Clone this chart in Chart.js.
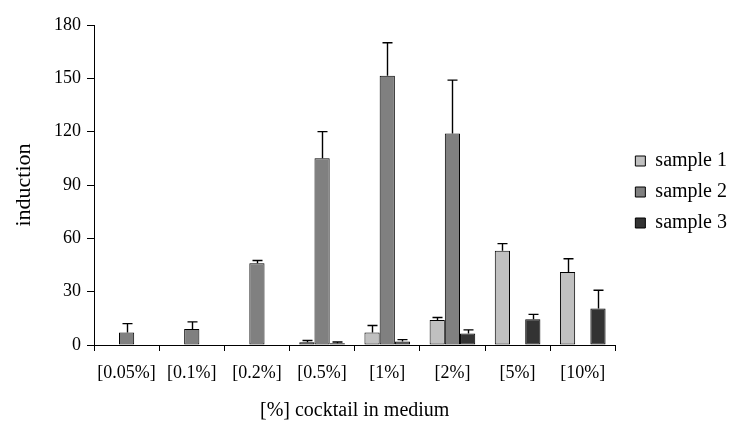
<!DOCTYPE html>
<html>
<head>
<meta charset="utf-8">
<script src="https://cdn.jsdelivr.net/npm/chart.js@4/dist/chart.umd.min.js"></script>
<style>
  html, body { margin: 0; padding: 0; background: #ffffff; }
  #wrap { width: 733px; height: 423px; position: relative; }
</style>
</head>
<body>
<div id="wrap"><canvas id="chart" width="733" height="423"></canvas></div>
<script>
// Cocktail concentrations in the medium
const categories = ['[0.05%]', '[0.1%]', '[0.2%]', '[0.5%]', '[1%]', '[2%]', '[5%]', '[10%]'];

// Mean induction per sample (null = not measured)
const sample1 = [null, null, null, 1.5, 7, 14, 53, 41];
const sample2 = [7, 9, 46, 105, 151.5, 119, null, null];
const sample3 = [null, null, null, 1, 2, 6.5, 14.5, 20.5];

// Upper error (standard deviation) per sample
const sample1Err = [null, null, null, 1, 4, 1.5, 4, 7.5];
const sample2Err = [5, 4, 1.5, 15, 18.5, 30, null, null];
const sample3Err = [null, null, null, 0.7, 1, 2, 2.7, 10.3];

// Y axis tick values
const yTicks = [0, 30, 60, 90, 120, 150, 180];

const serif = "'Liberation Serif', 'Times New Roman', serif";

// Draws upper error whiskers with a cap on top of each bar
const errorBars = {
  id: 'errorBars',
  afterDatasetsDraw(chart) {
    const ctx = chart.ctx;
    const yScale = chart.scales.y;
    ctx.save();
    ctx.strokeStyle = '#000000';
    ctx.lineWidth = 1.4;
    chart.data.datasets.forEach((ds, di) => {
      const meta = chart.getDatasetMeta(di);
      meta.data.forEach((bar, i) => {
        const v = ds.data[i];
        const e = ds.errors[i];
        if (v == null || e == null) return;
        const x = Math.round(bar.x) + 0.5;
        const yTop = yScale.getPixelForValue(v);
        const yErr = yScale.getPixelForValue(v + e);
        ctx.beginPath();
        ctx.moveTo(x, yTop);
        ctx.lineTo(x, yErr);
        ctx.moveTo(x - 5, yErr);
        ctx.lineTo(x + 5, yErr);
        ctx.stroke();
      });
    });
    ctx.restore();
  }
};

// Nudges the legend block: a gap from the plot and centred on the upper half
const legendPlacement = {
  id: 'legendPlacement',
  afterLayout(chart) {
    const lg = chart.legend;
    if (!lg) return;
    const dx = chart.chartArea.right + 9 - lg.left;
    const dy = -32;
    lg.left += dx; lg.right += dx;
    lg.top += dy; lg.bottom += dy;
  }
};

new Chart(document.getElementById('chart'), {
  type: 'bar',
  data: {
    labels: categories,
    datasets: [
      { label: 'sample 1', data: sample1, errors: sample1Err, backgroundColor: '#c0c0c0' },
      { label: 'sample 2', data: sample2, errors: sample2Err, backgroundColor: '#808080' },
      { label: 'sample 3', data: sample3, errors: sample3Err, backgroundColor: '#333333' }
    ].map(d => Object.assign(d, { borderColor: '#000000', borderWidth: 1, borderSkipped: false }))
  },
  options: {
    responsive: false,
    animation: false,
    devicePixelRatio: 1,
    layout: { padding: { top: 25, right: 5, bottom: 0, left: 0 } },
    datasets: { bar: { barPercentage: 1, categoryPercentage: 0.7 } },
    plugins: {
      tooltip: { enabled: false },
      legend: {
        position: 'right',
        align: 'center',
        labels: {
          color: '#000000',
          font: { family: serif, size: 20 },
          boxWidth: 10,
          boxHeight: 10,
          padding: 11
        }
      }
    },
    scales: {
      x: {
        offset: true,
        border: { color: '#000000', width: 1 },
        grid: { display: true, drawOnChartArea: false, drawTicks: true, tickLength: 6, color: '#000000', offset: true },
        ticks: { color: '#000000', font: { family: serif, size: 18 }, padding: 11, maxRotation: 0, autoSkip: false },
        title: {
          display: true,
          text: '[%] cocktail in medium',
          color: '#000000',
          font: { family: serif, size: 20 },
          padding: { top: 0, bottom: 0 }
        },
        afterFit(scale) { scale.height = 78; }
      },
      y: {
        min: 0,
        max: 180,
        afterBuildTicks(scale) { scale.ticks = yTicks.map(v => ({ value: v })); },
        border: { color: '#000000', width: 1 },
        grid: { display: true, drawOnChartArea: false, drawTicks: true, tickLength: 7, color: '#000000' },
        ticks: { color: '#000000', font: { family: serif, size: 18 }, padding: 6 },
        title: {
          display: true,
          text: 'induction',
          color: '#000000',
          font: { family: serif, size: 22 },
          padding: { top: 11, bottom: 0 }
        },
        afterFit(scale) { scale.width = 94; }
      }
    }
  },
  plugins: [errorBars, legendPlacement]
});
</script>
</body>
</html>
